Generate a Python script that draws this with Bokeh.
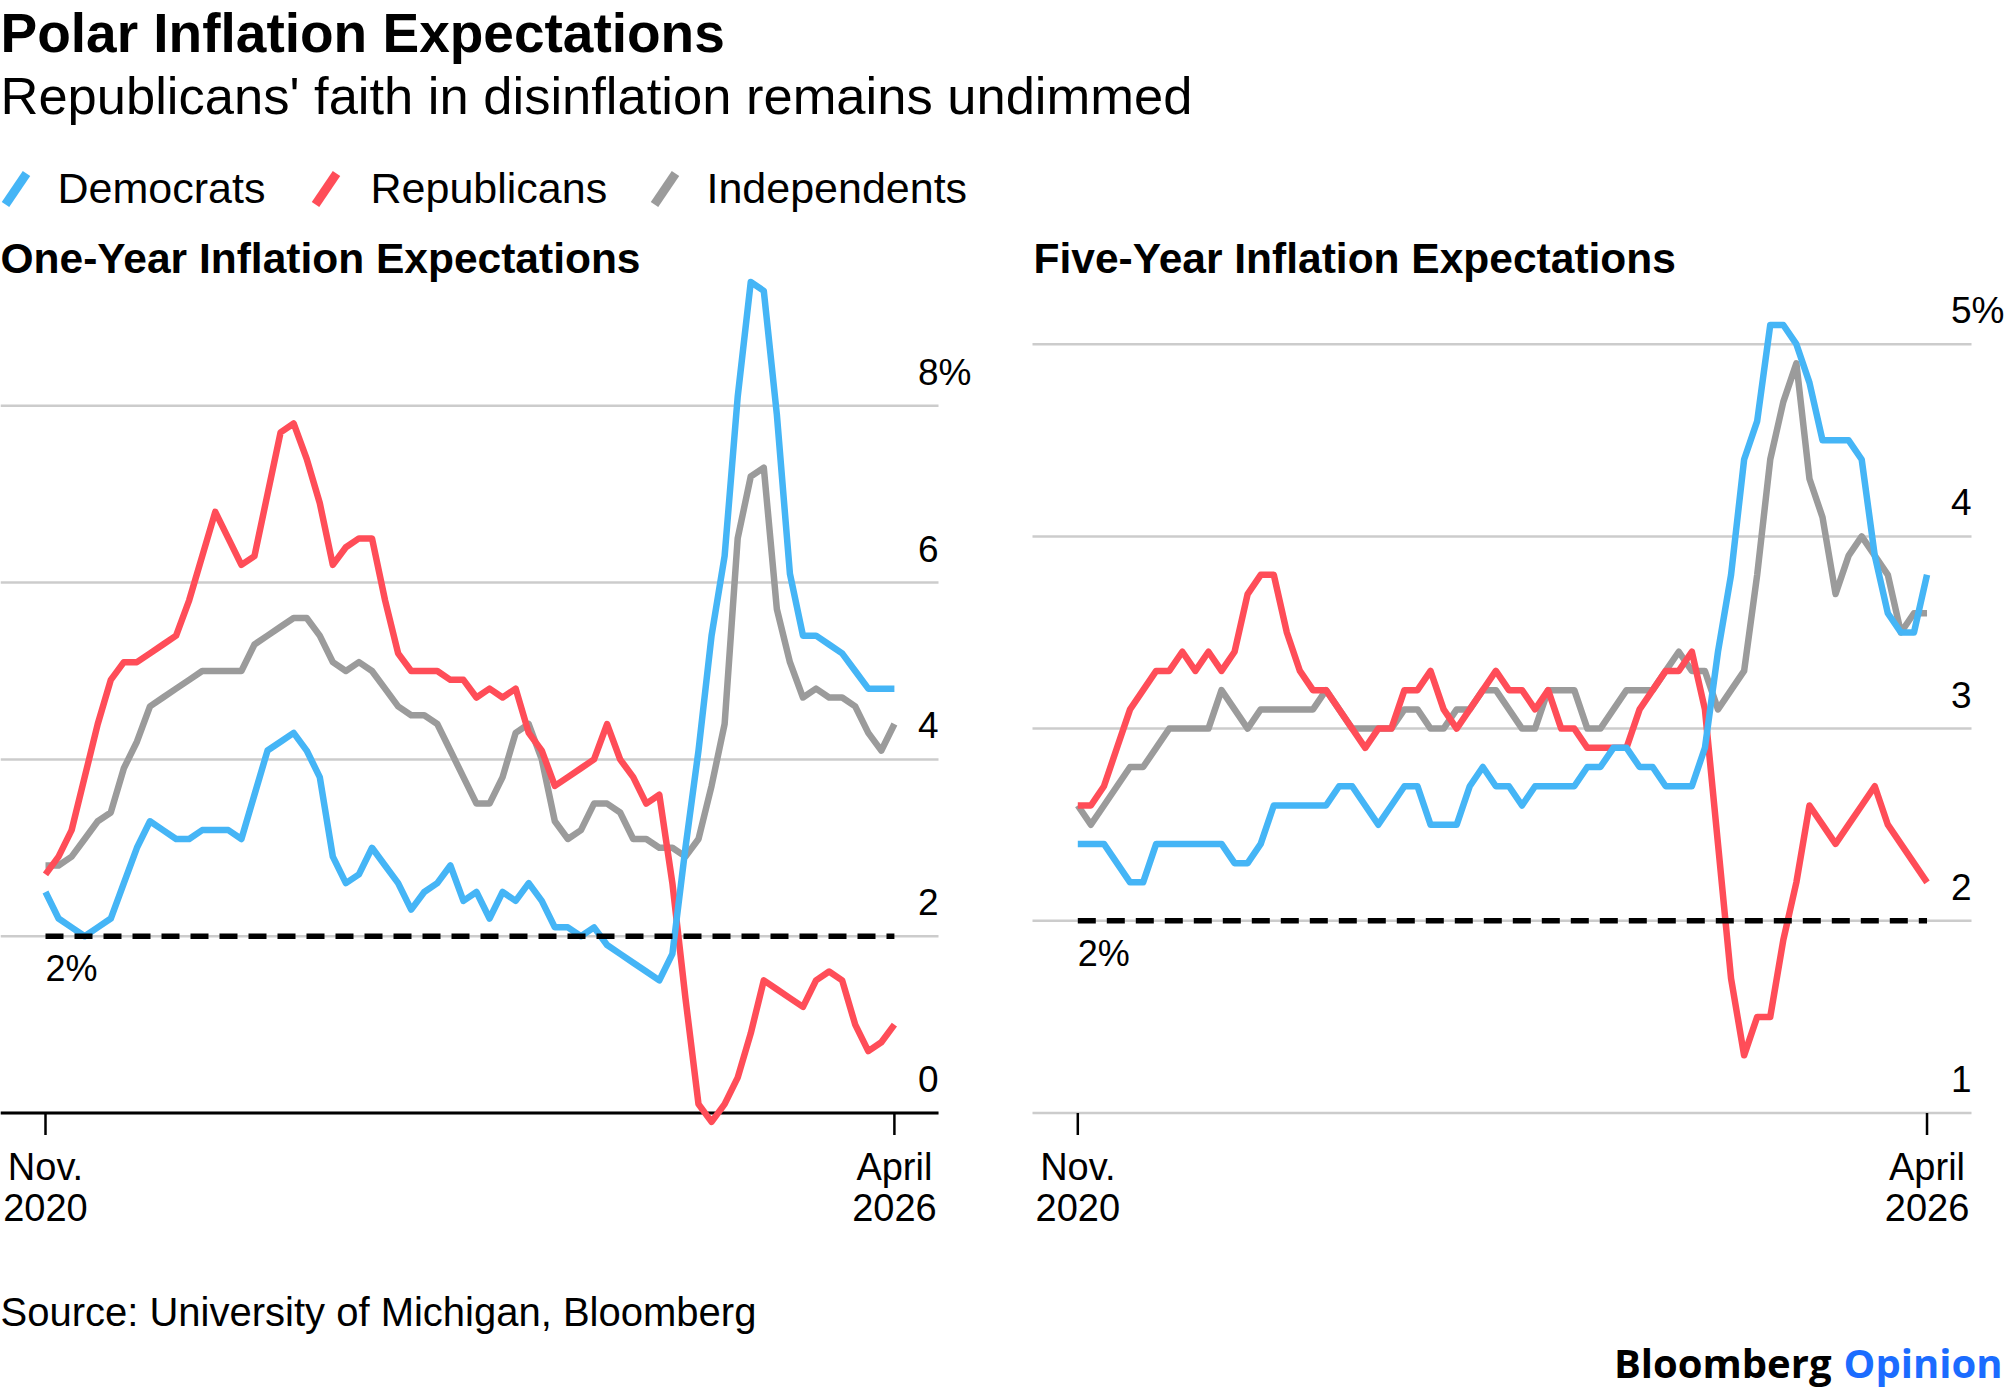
import pandas as pd
from bokeh.plotting import figure
from bokeh.layouts import column, row
from bokeh.models import LabelSet, ColumnDataSource, Range1d
from bokeh.core.properties import value
from bokeh.embed import file_html
from bokeh.resources import INLINE

# ---------------- data ----------------
months = pd.date_range("2020-11-01", "2026-04-01", freq="MS")  # 66 monthly surveys
x = list(range(len(months)))

one_dem = [2.5, 2.2, 2.1, 2.0, 2.1, 2.2, 2.6, 3.0, 3.3, 3.2, 3.1, 3.1, 3.2, 3.2, 3.2, 3.1,
           3.6, 4.1, 4.2, 4.3, 4.1, 3.8, 2.9, 2.6, 2.7, 3.0, 2.8, 2.6, 2.3, 2.5, 2.6, 2.8,
           2.4, 2.5, 2.2, 2.5, 2.4, 2.6, 2.4, 2.1, 2.1, 2.0, 2.1, 1.9, 1.8, 1.7, 1.6, 1.5,
           1.8, 3.0, 4.1, 5.4, 6.3, 8.1, 9.4, 9.3, 7.9, 6.1, 5.4, 5.4, 5.3, 5.2, 5.0, 4.8,
           4.8, 4.8]
one_rep = [2.7, 2.9, 3.2, 3.8, 4.4, 4.9, 5.1, 5.1, 5.2, 5.3, 5.4, 5.8, 6.3, 6.8, 6.5, 6.2,
           6.3, 7.0, 7.7, 7.8, 7.4, 6.9, 6.2, 6.4, 6.5, 6.5, 5.8, 5.2, 5.0, 5.0, 5.0, 4.9,
           4.9, 4.7, 4.8, 4.7, 4.8, 4.3, 4.1, 3.7, 3.8, 3.9, 4.0, 4.4, 4.0, 3.8, 3.5, 3.6,
           2.6, 1.3, 0.1, -0.1, 0.1, 0.4, 0.9, 1.5, 1.4, 1.3, 1.2, 1.5, 1.6, 1.5, 1.0, 0.7,
           0.8, 1.0]
one_ind = [2.8, 2.8, 2.9, 3.1, 3.3, 3.4, 3.9, 4.2, 4.6, 4.7, 4.8, 4.9, 5.0, 5.0, 5.0, 5.0,
           5.3, 5.4, 5.5, 5.6, 5.6, 5.4, 5.1, 5.0, 5.1, 5.0, 4.8, 4.6, 4.5, 4.5, 4.4, 4.1,
           3.8, 3.5, 3.5, 3.8, 4.3, 4.4, 4.0, 3.3, 3.1, 3.2, 3.5, 3.5, 3.4, 3.1, 3.1, 3.0,
           3.0, 2.9, 3.1, 3.7, 4.4, 6.5, 7.2, 7.3, 5.7, 5.1, 4.7, 4.8, 4.7, 4.7, 4.6, 4.3,
           4.1, 4.4]

five_dem = [2.4, 2.4, 2.4, 2.3, 2.2, 2.2, 2.4, 2.4, 2.4, 2.4, 2.4, 2.4, 2.3, 2.3, 2.4, 2.6,
            2.6, 2.6, 2.6, 2.6, 2.7, 2.7, 2.6, 2.5, 2.6, 2.7, 2.7, 2.5, 2.5, 2.5, 2.7, 2.8,
            2.7, 2.7, 2.6, 2.7, 2.7, 2.7, 2.7, 2.8, 2.8, 2.9, 2.9, 2.8, 2.8, 2.7, 2.7, 2.7,
            2.9, 3.4, 3.8, 4.4, 4.6, 5.1, 5.1, 5.0, 4.8, 4.5, 4.5, 4.5, 4.4, 3.9, 3.6, 3.5,
            3.5, 3.8]
five_rep = [2.6, 2.6, 2.7, 2.9, 3.1, 3.2, 3.3, 3.3, 3.4, 3.3, 3.4, 3.3, 3.4, 3.7, 3.8, 3.8,
            3.5, 3.3, 3.2, 3.2, 3.1, 3.0, 2.9, 3.0, 3.0, 3.2, 3.2, 3.3, 3.1, 3.0, 3.1, 3.2,
            3.3, 3.2, 3.2, 3.1, 3.2, 3.0, 3.0, 2.9, 2.9, 2.9, 2.9, 3.1, 3.2, 3.3, 3.3, 3.4,
            3.1, 2.4, 1.7, 1.3, 1.5, 1.5, 1.9, 2.2, 2.6, 2.5, 2.4, 2.5, 2.6, 2.7, 2.5, 2.4,
            2.3, 2.2]
five_ind = [2.6, 2.5, 2.6, 2.7, 2.8, 2.8, 2.9, 3.0, 3.0, 3.0, 3.0, 3.2, 3.1, 3.0, 3.1, 3.1,
            3.1, 3.1, 3.1, 3.2, 3.1, 3.0, 3.0, 3.0, 3.0, 3.1, 3.1, 3.0, 3.0, 3.1, 3.1, 3.2,
            3.2, 3.1, 3.0, 3.0, 3.2, 3.2, 3.2, 3.0, 3.0, 3.1, 3.2, 3.2, 3.2, 3.3, 3.4, 3.3,
            3.3, 3.1, 3.2, 3.3, 3.8, 4.4, 4.7, 4.9, 4.3, 4.1, 3.7, 3.9, 4.0, 3.9, 3.8, 3.5,
            3.6, 3.6]

series_names = ["Democrats", "Republicans", "Independents"]
series_colors = ["#45b5f6", "#ff4d58", "#9b9b9b"]

one_ticks = [0, 2, 4, 6, 8]
one_tick_labels = ["0", "2", "4", "6", "8%"]
five_ticks = [1, 2, 3, 4, 5]
five_tick_labels = ["1", "2", "3", "4", "5%"]
x_tick_top = ["Nov.", "April"]
x_tick_bottom = ["2020", "2026"]
target = 2
target_label = "2%"

title = "Polar Inflation Expectations"
subtitle = "Republicans' faith in disinflation remains undimmed"
panel_titles = ["One-Year Inflation Expectations", "Five-Year Inflation Expectations"]
source = "Source: University of Michigan, Bloomberg"

# ---------------- styling / layout ----------------
FONT = "Liberation Sans"
W, H = 2005, 1395
HEADER_H = 230
PANEL_H = 1010
FOOTER_H = H - HEADER_H - PANEL_H
GRID = "#cccccc"


def labels(p, xs, ys, texts, size, bold=False, color="#000000", align="left", font=FONT):
    src = ColumnDataSource(dict(x=list(xs), y=list(ys), text=list(texts)))
    p.add_layout(LabelSet(x="x", y="y", text="text", source=src,
                          text_font=value(font), text_font_size=size,
                          text_font_style="bold" if bold else "normal",
                          text_color=color, text_align=align,
                          text_baseline="alphabetic"))


def bare(w, h, xr, yr):
    p = figure(frame_width=w, frame_height=h, x_range=xr, y_range=yr,
               output_backend="svg", toolbar_location=None, min_border=0,
               x_axis_location=None, y_axis_location=None)
    p.grid.visible = False
    p.outline_line_color = None
    p.background_fill_color = "white"
    p.border_fill_color = "white"
    return p


# ---------- header (pixel coordinates) ----------
head = bare(W, HEADER_H, Range1d(0, W), Range1d(HEADER_H, 0))
labels(head, [0], [51], [title], "55px", bold=True)
labels(head, [0], [113], [subtitle], "52.5px")
mark_x = [5, 315, 654]
text_x = [57, 370, 706]
head.segment(x0=mark_x, y0=[204] * 3, x1=[m + 21 for m in mark_x], y1=[173] * 3,
             line_color=series_colors, line_width=9, line_cap="butt")
labels(head, text_x, [202] * 3, series_names, "43px")


# ---------- panels ----------
def panel(ys_list, ticks, tick_labels, ptitle, fig_left, fig_w, x_first_px, step_px,
          grid_from, grid_to, zero_px, unit_px, axis_color):
    # pixel geometry of the panel (page coordinates) -> data ranges
    x0 = -(x_first_px - fig_left) / step_px
    x1 = x0 + fig_w / step_px
    top, bottom = HEADER_H, HEADER_H + PANEL_H
    y1 = ticks[0] + (zero_px - top) / unit_px
    y0 = ticks[0] - (bottom - zero_px) / unit_px
    p = bare(fig_w, PANEL_H, Range1d(x0, x1), Range1d(y0, y1))

    gx0 = x0 + (grid_from - fig_left) / step_px
    gx1 = x0 + (grid_to - fig_left) / step_px
    n = len(ticks)
    # horizontal gridlines
    p.segment(x0=[gx0] * n, x1=[gx1] * n, y0=ticks, y1=ticks,
              line_color=GRID, line_width=2.5)
    # baseline axis line
    if axis_color is not None:
        p.segment(x0=[gx0], x1=[gx1], y0=[ticks[0]], y1=[ticks[0]],
                  line_color=axis_color, line_width=3)
    # x tick marks
    tick_len = 22 / unit_px
    xt = [x[0], x[-1]]
    p.segment(x0=xt, x1=xt, y0=[ticks[0]] * 2, y1=[ticks[0] - tick_len] * 2,
              line_color="#000000", line_width=2.5)

    # series: independents first, democrats on top
    for k in [2, 1, 0]:
        p.line(x, ys_list[k], line_color=series_colors[k], line_width=6.5,
               line_join="round")

    # 2% target line
    p.segment(x0=[x[0]], x1=[x[-1]], y0=[target], y1=[target], line_color="#000000",
              line_width=5.5, line_dash="18 11")

    # y tick labels (right, above gridlines)
    lx = gx1 - 20.5 / step_px
    labels(p, [lx] * n, [t + 21 / unit_px for t in ticks], tick_labels, "37px")
    # x tick labels
    labels(p, xt, [ticks[0] - 67 / unit_px] * 2, x_tick_top, "38px", align="center")
    labels(p, xt, [ticks[0] - 108 / unit_px] * 2, x_tick_bottom, "38px", align="center")
    # target label
    labels(p, [x[0]], [target - 45 / unit_px], [target_label], "36px")
    # panel title
    labels(p, [gx0 + (1 if fig_left else 0) / step_px], [y1 - 42 / unit_px], [ptitle],
           "42.5px", bold=True)
    return p


left = panel([one_dem, one_rep, one_ind], one_ticks, one_tick_labels, panel_titles[0],
             fig_left=0, fig_w=1000, x_first_px=45, step_px=13.06,
             grid_from=0, grid_to=938, zero_px=1112.5, unit_px=88.4,
             axis_color="#000000")
right = panel([five_dem, five_rep, five_ind], five_ticks, five_tick_labels, panel_titles[1],
              fig_left=1000, fig_w=W - 1000, x_first_px=1077.3, step_px=13.065,
              grid_from=1032, grid_to=1971, zero_px=1112.5, unit_px=192.2,
              axis_color=None)

# ---------- footer (pixel coordinates) ----------
foot = bare(W, FOOTER_H, Range1d(0, W), Range1d(FOOTER_H, 0))
labels(foot, [0], [85], [source], "40px")
labels(foot, [2002], [137], ["Opinion"], "40px", bold=True, color="#1b6cff",
       align="right", font="Open Sans")
labels(foot, [1831], [137], ["Bloomberg"], "40px", bold=True, align="right",
       font="Open Sans")

layout = column(head, row(left, right), foot)
open("out.html", "w").write(file_html(layout, INLINE))
